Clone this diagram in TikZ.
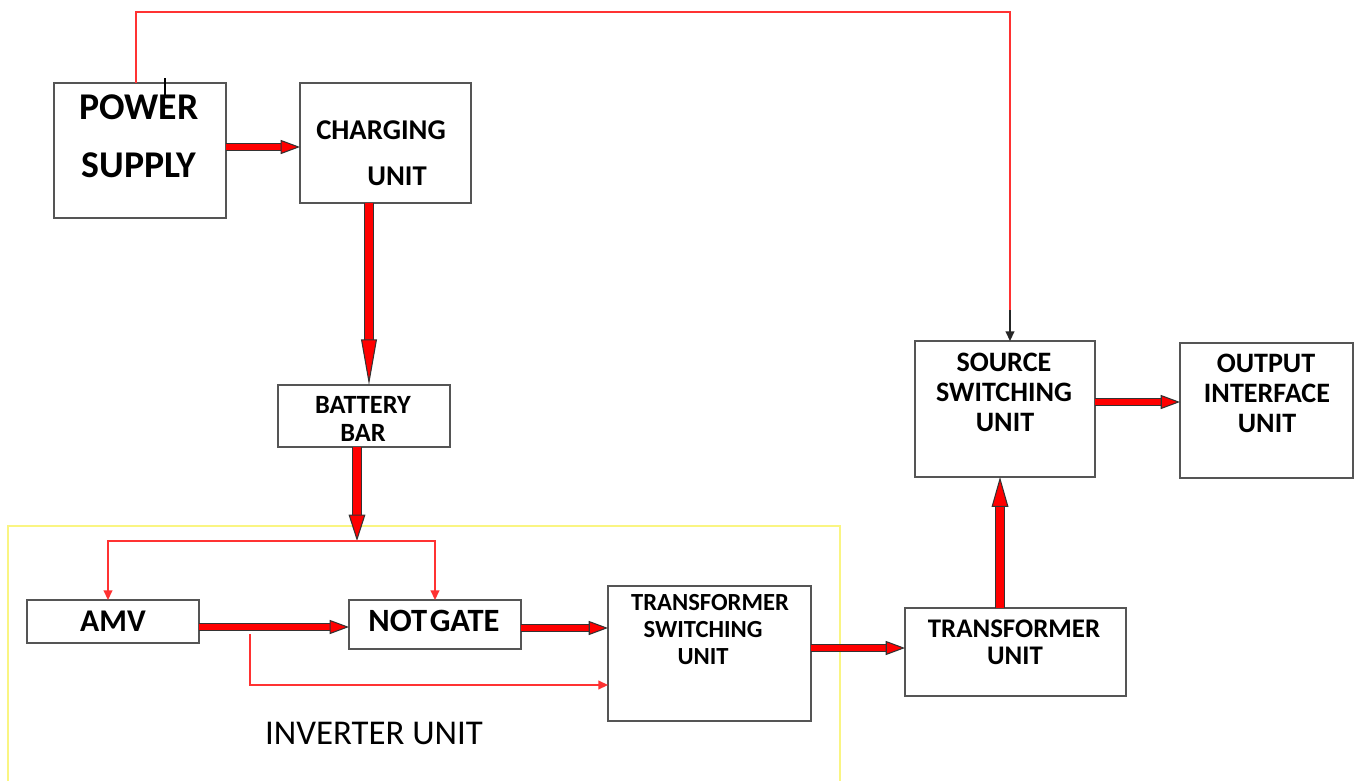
\documentclass[tikz,border=0pt]{standalone}
\usepackage{fontspec}
\setmainfont{Carlito}
\usetikzlibrary{arrows.meta}
\definecolor{invy}{RGB}{250,245,130}
\definecolor{boxc}{RGB}{85,85,85}
\definecolor{linred}{RGB}{255,50,50}
\begin{document}
\begin{tikzpicture}[x=0.02cm,y=-0.02cm,
  box/.style={draw=boxc, line width=1.1pt, inner sep=0pt, outer sep=0pt, fill=white},
  lbl/.style={font=\bfseries, inner sep=0pt, text=black},
  thinarrow/.style={draw=linred, line width=0.8pt, -{Triangle[length=5.5pt,width=5pt]}},
  big/.style n args={3}{draw=red, line width=#3,
     -{Triangle[length=#1,width=#2,line width=0.6pt,color=black!80,fill=red]},
     preaction={draw=black!80, line width=#3+1.2pt, -, shorten >=#1-2pt}}
]
\useasboundingbox (0,0) rectangle (1356,781);
\fill[white] (0,0) rectangle (1356,781);

% inverter unit frame
\node[draw=invy, line width=0.8pt, minimum width=16.64cm, minimum height=5.48cm, inner sep=0pt] (inv) at (424,663) {};
\node[inner sep=0pt, font=\fontsize{19.8}{21}\selectfont] (invl) at (374,733) {INVERTER UNIT};

% boxes
\node[box, minimum width=3.44cm, minimum height=2.70cm] (ps) at (140,150.5) {};
\node[box, minimum width=3.42cm, minimum height=2.40cm] (cu) at (385.5,143) {};
\node[box, minimum width=3.44cm, minimum height=1.24cm] (bb) at (364,416) {};
\node[box, minimum width=3.44cm, minimum height=0.86cm] (amv) at (113,621.5) {};
\node[box, minimum width=3.44cm, minimum height=0.98cm] (ng) at (435,624.5) {};
\node[box, minimum width=4.06cm, minimum height=2.70cm] (tsu) at (709.5,653.5) {};
\node[box, minimum width=4.42cm, minimum height=1.76cm] (tu) at (1015.5,652) {};
\node[box, minimum width=3.60cm, minimum height=2.72cm] (ssu) at (1005,409) {};
\node[box, minimum width=3.46cm, minimum height=2.70cm] (oiu) at (1266.5,410.5) {};

% labels
\begin{scope}[every node/.style={lbl}]
\node[font=\bfseries\fontsize{21.5}{23}\selectfont] (ps1) at (139,107) {POWER};
\node[font=\bfseries\fontsize{21.5}{23}\selectfont] (ps2) at (139,165) {SUPPLY};
\node[font=\bfseries\fontsize{16.3}{18}\selectfont] (cu1) at (381,130) {CHARGING};
\node[font=\bfseries\fontsize{16.3}{18}\selectfont] (cu2) at (397,176) {UNIT};
\node[font=\bfseries\fontsize{15}{17}\selectfont] (bb1) at (363,405) {BATTERY};
\node[font=\bfseries\fontsize{15}{17}\selectfont] (bb2) at (363,433) {BAR};
\node[font=\bfseries\fontsize{18}{20}\selectfont] (amv1) at (113,621) {AMV};
\node[font=\bfseries\fontsize{18.5}{20}\selectfont] (ng1) at (434,621) {NOT\kern1.5pt GATE};
\node[font=\bfseries\fontsize{14}{16}\selectfont] (tsu1) at (710,603) {TRANSFORMER};
\node[font=\bfseries\fontsize{14}{16}\selectfont] (tsu2) at (703,630) {SWITCHING};
\node[font=\bfseries\fontsize{14}{16}\selectfont] (tsu3) at (703,657) {UNIT};
\node[font=\bfseries\fontsize{15.3}{17}\selectfont] (tu1) at (1014,629) {TRANSFORMER};
\node[font=\bfseries\fontsize{15.3}{17}\selectfont] (tu2) at (1015,656) {UNIT};
\node[font=\bfseries\fontsize{16}{18}\selectfont] (ssu1) at (1004,362) {SOURCE};
\node[font=\bfseries\fontsize{16}{18}\selectfont] (ssu2) at (1004,392) {SWITCHING};
\node[font=\bfseries\fontsize{16}{18}\selectfont] (ssu3) at (1005,422) {UNIT};
\node[font=\bfseries\fontsize{16}{18}\selectfont] (oiu1) at (1266,363) {OUTPUT};
\node[font=\bfseries\fontsize{16}{18}\selectfont] (oiu2) at (1267,393) {INTERFACE};
\node[font=\bfseries\fontsize{16}{18}\selectfont] (oiu3) at (1267,423) {UNIT};
\end{scope}

% helper coordinates
\coordinate (split) at (357,541);
\coordinate (tap) at (250,634);
\coordinate (turn) at (1010,310);

% thick arrows
\draw[big={11pt}{8pt}{3.4pt}] (ps.east |- 0,147) -- (cu.west |- 0,147);
\draw[big={26pt}{9pt}{5pt}] (cu.south -| 369,0) -- (bb.north -| 369,0);
\draw[big={15pt}{9.5pt}{4.6pt}] (bb.south -| split) -- (split);
\draw[big={11pt}{8pt}{3.4pt}] (amv.east |- 0,627) -- (ng.west |- 0,627);
\draw[big={11pt}{8pt}{3.4pt}] (ng.east |- 0,628) -- (tsu.west |- 0,628);
\draw[big={11pt}{8pt}{3.4pt}] (tsu.east |- 0,648) -- (tu.west |- 0,648);
\draw[big={17pt}{9.5pt}{4.8pt}] (tu.north -| 1000,0) -- (ssu.south -| 1000,0);
\draw[big={11pt}{8pt}{3.4pt}] (ssu.east |- 0,402) -- (oiu.west |- 0,402);

% thin red connectors
\draw[thinarrow] (split) -| (amv.north -| 108,0);
\draw[thinarrow] (split) -| (ng.north -| 435,0);
\draw[thinarrow] (tap) |- (tsu.west |- 0,685);
\draw[draw=linred, line width=0.8pt] (ps.north -| 136,0) |- (1010,12) -- (turn);
\draw[draw=black!85, line width=0.8pt, -{Triangle[length=5.5pt,width=5pt]}] (turn) -- (ssu.north -| turn);

% small cursor mark
\draw[black, line width=1pt] (165,78) -- (165,97);
\end{tikzpicture}
\end{document}
